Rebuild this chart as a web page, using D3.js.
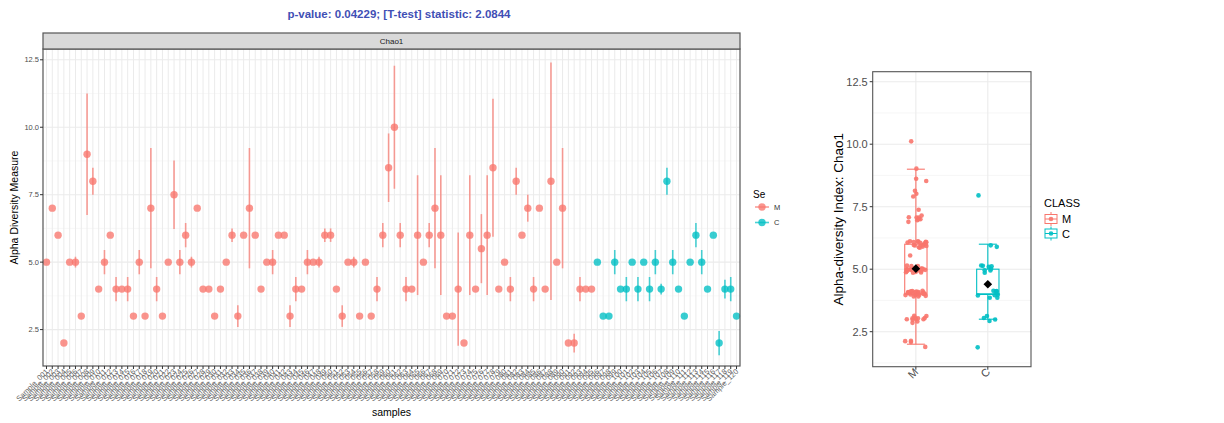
<!DOCTYPE html>
<html><head><meta charset="utf-8">
<script src="https://cdn.jsdelivr.net/npm/d3@7"></script>
<style>body{margin:0;background:#fff} svg{display:block;font-family:"Liberation Sans",Arial,Helvetica,sans-serif}</style>
</head><body><svg id="c" width="1224" height="423"></svg>
<script>
// ---------------- DATA ----------------
const titleText = "p-value: 0.04229; [T-test] statistic: 2.0844";
const samples = d3.range(1, 121).map(i => "Sample_" + String(i).padStart(3, "0"));
const classes = [...Array(95).fill("M"), ...Array(25).fill("C")];
const classLevels = ["M", "C"];
const chao1 = [
  5,7,6,2,5,5,3,9,8,4, 5,6,4,4,4,3,5,3,7,4,
  3,5,7.5,5,6,5,7,4,4,3, 4,5,6,3,6,7,6,4,5,5,
  6,6,3,4,4,5,5,5,6,6, 4,3,5,5,3,5,3,4,6,8.5,
  10,6,4,4,6,5,6,7,6,3, 3,4,2,6,4,5.5,6,8.5,4,5,
  4,8,6,7,4,7,4,8,5,7, 2,2,4,4,4,
  5,3,3,5,4, 4,5,4,5,4, 5,4,8,5,4, 3,5,6,5,4, 6,2,4,4,3
];
const chao1SE = [
  0,0,0,0,0,0.2,0,2.25,0.5,0, 0.45,0,0.45,0,0.45,0,0.45,0,2.23,0.45,
  0,0,1.27,0.45,0.45,0.2,0,0,0,0, 0,0,0.25,0.4,0,2.23,0,0,0,0.45,
  0,0,0.4,0.45,0,0.45,0,0.2,0.25,0.25, 0,0.4,0,0.2,0,0,0,0.45,0.45,1.27,
  2.28,0.45,0.45,0,2.22,0,0.45,2.23,2.22,0, 0,2.1,0,2.22,0,1.28,2.22,2.56,0,0,
  0.45,0.5,0,0.5,0.45,0,0,4.4,0,2.23, 0,0.35,0.45,0,0,
  0,0,0,0.45,0, 0.45,0,0.45,0,0.45, 0.45,0.2,0.5,0.45,0, 0,0,0.45,0.45,0, 0,0.45,0.35,0.45,0,0
];
const yTicks = [2.5, 5, 7.5, 10, 12.5];
const yMinor = [1.25, 3.75, 6.25, 8.75, 11.25];
const colors = {M: "#F8766D", C: "#00BFC4"};

// ---------------- CHART ----------------
const svg = d3.select("#c");
const fmt = d3.format(".1f");

svg.append("text").attr("x", 399).attr("y", 18).attr("text-anchor", "middle")
  .attr("font-size", 11.5).attr("font-weight", "bold").attr("fill", "#3f4fb5").text(titleText);

// ---- left panel ----
const L = {x0: 43, x1: 740, y0: 49, y1: 366};
const xL = d3.scalePoint().domain(samples).range([L.x0, L.x1]).padding(0.6);
const yL = d3.scaleLinear().domain([1.15, 12.9]).range([L.y1, L.y0]);
const gL = svg.append("g");
gL.append("rect").attr("x", L.x0).attr("y", L.y0).attr("width", L.x1 - L.x0).attr("height", L.y1 - L.y0).attr("fill", "#fff");
gL.selectAll(".mn").data(yMinor.filter(v => v > 1.15)).join("line")
  .attr("x1", L.x0).attr("x2", L.x1).attr("y1", d => yL(d)).attr("y2", d => yL(d))
  .attr("stroke", "#F4F4F4").attr("stroke-width", 0.6);
gL.selectAll(".mj").data(yTicks).join("line")
  .attr("x1", L.x0).attr("x2", L.x1).attr("y1", d => yL(d)).attr("y2", d => yL(d))
  .attr("stroke", "#EBEBEB").attr("stroke-width", 1.1);
gL.selectAll(".vx").data(samples).join("line")
  .attr("x1", d => xL(d)).attr("x2", d => xL(d)).attr("y1", L.y0).attr("y2", L.y1)
  .attr("stroke", "#EBEBEB").attr("stroke-width", 1);

const pts = samples.map((s, i) => ({s, v: chao1[i], se: chao1SE[i], c: classes[i], i}));
gL.selectAll(".eb").data(pts.filter(d => d.se > 0)).join("line")
  .attr("x1", d => xL(d.s)).attr("x2", d => xL(d.s))
  .attr("y1", d => yL(d.v - d.se)).attr("y2", d => yL(d.v + d.se))
  .attr("stroke", d => colors[d.c]).attr("stroke-width", 1.6).attr("opacity", 0.7);
gL.selectAll(".pt").data(pts).join("circle")
  .attr("cx", d => xL(d.s)).attr("cy", d => yL(d.v)).attr("r", 3.7)
  .attr("fill", d => colors[d.c]).attr("opacity", 0.78);
gL.append("rect").attr("x", L.x0).attr("y", L.y0).attr("width", L.x1 - L.x0).attr("height", L.y1 - L.y0)
  .attr("fill", "none").attr("stroke", "#555").attr("stroke-width", 1.2);
// strip
gL.append("rect").attr("x", L.x0).attr("y", 33).attr("width", L.x1 - L.x0).attr("height", 16)
  .attr("fill", "#D9D9D9").attr("stroke", "#555").attr("stroke-width", 1.2);
gL.append("text").attr("x", (L.x0 + L.x1) / 2).attr("y", 44).attr("text-anchor", "middle")
  .attr("font-size", 8).attr("fill", "#1a1a1a").text("Chao1");
// y axis
gL.selectAll(".yt").data(yTicks).join("line")
  .attr("x1", L.x0 - 3).attr("x2", L.x0).attr("y1", d => yL(d)).attr("y2", d => yL(d)).attr("stroke", "#333");
gL.selectAll(".yl").data(yTicks).join("text")
  .attr("x", L.x0 - 4).attr("y", d => yL(d) + 2.6).attr("text-anchor", "end")
  .attr("font-size", 7.5).attr("fill", "#4D4D4D").text(d => fmt(d));
gL.append("text").attr("transform", `translate(18,${(L.y0 + L.y1) / 2}) rotate(-90)`)
  .attr("text-anchor", "middle").attr("font-size", 10.5).attr("fill", "#000").text("Alpha Diversity Measure");
// x axis
gL.selectAll(".xt").data(samples).join("line")
  .attr("x1", d => xL(d)).attr("x2", d => xL(d)).attr("y1", L.y1).attr("y2", L.y1 + 3).attr("stroke", "#333");
gL.selectAll(".xl").data(samples).join("text")
  .attr("transform", d => `translate(${xL(d) + 2.5},${L.y1 + 6}) rotate(-45)`)
  .attr("text-anchor", "end").attr("font-size", 7.5).attr("fill", "#6a6a6a").text(d => d);
gL.append("text").attr("x", (L.x0 + L.x1) / 2).attr("y", 416).attr("text-anchor", "middle")
  .attr("font-size", 10.5).attr("fill", "#000").text("samples");
// legend Se
gL.append("text").attr("x", 753).attr("y", 198).attr("font-size", 10).attr("fill", "#000").text("Se");
classLevels.forEach((c, k) => {
  const yy = 207 + k * 15.5;
  gL.append("line").attr("x1", 755).attr("x2", 769).attr("y1", yy).attr("y2", yy)
    .attr("stroke", colors[c]).attr("stroke-width", 1.6).attr("opacity", 0.7);
  gL.append("circle").attr("cx", 762).attr("cy", yy).attr("r", 3.7).attr("fill", colors[c]).attr("opacity", 0.78);
  gL.append("text").attr("x", 774).attr("y", yy + 2.8).attr("font-size", 7.5).attr("fill", "#333").text(c);
});

// ---- right panel ----
const R = {x0: 872.7, x1: 1031, y0: 71.7, y1: 366.7};
const xR = d3.scalePoint().domain(classLevels).range([R.x0, R.x1]).padding(0.6);
const yR = d3.scaleLinear().domain([1.1, 12.9]).range([R.y1, R.y0]);
const gR = svg.append("g");
gR.append("rect").attr("x", R.x0).attr("y", R.y0).attr("width", R.x1 - R.x0).attr("height", R.y1 - R.y0).attr("fill", "#fff");
gR.selectAll(".mn").data(yMinor.filter(v => v > 1.1)).join("line")
  .attr("x1", R.x0).attr("x2", R.x1).attr("y1", d => yR(d)).attr("y2", d => yR(d))
  .attr("stroke", "#F2F2F2").attr("stroke-width", 0.7);
gR.selectAll(".mj").data(yTicks).join("line")
  .attr("x1", R.x0).attr("x2", R.x1).attr("y1", d => yR(d)).attr("y2", d => yR(d))
  .attr("stroke", "#EBEBEB").attr("stroke-width", 1.1);
gR.selectAll(".vx").data(classLevels).join("line")
  .attr("x1", d => xR(d)).attr("x2", d => xR(d)).attr("y1", R.y0).attr("y2", R.y1)
  .attr("stroke", "#EBEBEB").attr("stroke-width", 1.1);

const step = xR.step();
const boxW = 0.31 * step, capW = 0.25 * step;
classLevels.forEach(c => {
  const vals = chao1.filter((v, i) => classes[i] === c).sort(d3.ascending);
  const q1 = d3.quantile(vals, 0.25), med = d3.quantile(vals, 0.5), q3 = d3.quantile(vals, 0.75);
  const iqr = q3 - q1;
  const lo = d3.min(vals.filter(v => v >= q1 - 1.5 * iqr));
  const hi = d3.max(vals.filter(v => v <= q3 + 1.5 * iqr));
  const cx = xR(c), col = colors[c];
  const g = gR.append("g").attr("stroke", col).attr("fill", "none").attr("stroke-width", 1.1);
  g.append("line").attr("x1", cx).attr("x2", cx).attr("y1", yR(q3)).attr("y2", yR(hi));
  g.append("line").attr("x1", cx).attr("x2", cx).attr("y1", yR(q1)).attr("y2", yR(lo));
  g.append("line").attr("x1", cx - capW / 2).attr("x2", cx + capW / 2).attr("y1", yR(hi)).attr("y2", yR(hi));
  g.append("line").attr("x1", cx - capW / 2).attr("x2", cx + capW / 2).attr("y1", yR(lo)).attr("y2", yR(lo));
  g.append("rect").attr("x", cx - boxW / 2).attr("y", yR(q3)).attr("width", boxW).attr("height", yR(q1) - yR(q3)).attr("fill", "#fff");
  g.append("line").attr("x1", cx - boxW / 2).attr("x2", cx + boxW / 2).attr("y1", yR(med)).attr("y2", yR(med)).attr("stroke-width", 1.6);
});
// jitter (deterministic offsets for layout only)
const jit = (i, k) => { const s = Math.sin((i + 1) * 12.9898 + k * 78.233) * 43758.5453; return (s - Math.floor(s)) * 2 - 1; };
gR.selectAll(".jp").data(pts).join("circle")
  .attr("cx", d => xR(d.c) + jit(d.i, 1) * 0.15 * step)
  .attr("cy", d => yR(d.v + jit(d.i, 2) * 0.15))
  .attr("r", 2.3).attr("fill", d => colors[d.c]).attr("opacity", 0.9);
classLevels.forEach(c => {
  const m = d3.mean(chao1.filter((v, i) => classes[i] === c));
  const cx = xR(c), cy = yR(m), s = 4.3;
  gR.append("path").attr("d", `M${cx},${cy - s}L${cx + s},${cy}L${cx},${cy + s}L${cx - s},${cy}Z`).attr("fill", "#000");
});
gR.append("rect").attr("x", R.x0).attr("y", R.y0).attr("width", R.x1 - R.x0).attr("height", R.y1 - R.y0)
  .attr("fill", "none").attr("stroke", "#555").attr("stroke-width", 1.1);
gR.selectAll(".yt").data(yTicks).join("line")
  .attr("x1", R.x0 - 3).attr("x2", R.x0).attr("y1", d => yR(d)).attr("y2", d => yR(d)).attr("stroke", "#333");
gR.selectAll(".yl").data(yTicks).join("text")
  .attr("x", R.x0 - 5).attr("y", d => yR(d) + 3.8).attr("text-anchor", "end")
  .attr("font-size", 11).attr("fill", "#4D4D4D").text(d => fmt(d));
gR.append("text").attr("transform", `translate(843,${(R.y0 + R.y1) / 2}) rotate(-90)`)
  .attr("text-anchor", "middle").attr("font-size", 13.5).attr("fill", "#000").text("Alpha-diversity Index: Chao1");
gR.selectAll(".xt").data(classLevels).join("line")
  .attr("x1", d => xR(d)).attr("x2", d => xR(d)).attr("y1", R.y1).attr("y2", R.y1 + 3).attr("stroke", "#333");
gR.selectAll(".xl").data(classLevels).join("text")
  .attr("transform", d => `translate(${xR(d) + 3},${R.y1 + 6}) rotate(-45)`)
  .attr("text-anchor", "end").attr("font-size", 11).attr("fill", "#4D4D4D").text(d => d);
// legend CLASS
gR.append("text").attr("x", 1044).attr("y", 207).attr("font-size", 11).attr("fill", "#000").text("CLASS");
classLevels.forEach((c, k) => {
  const yy = 219 + k * 14.5, kx = 1051;
  const g = gR.append("g").attr("stroke", colors[c]).attr("stroke-width", 1).attr("fill", "none");
  g.append("line").attr("x1", kx).attr("x2", kx).attr("y1", yy - 7).attr("y2", yy + 7);
  g.append("rect").attr("x", kx - 6).attr("y", yy - 4.5).attr("width", 12).attr("height", 9).attr("fill", "#fff");
  g.append("line").attr("x1", kx - 6).attr("x2", kx + 6).attr("y1", yy).attr("y2", yy);
  gR.append("circle").attr("cx", kx).attr("cy", yy).attr("r", 2.3).attr("fill", colors[c]).attr("opacity", 0.9);
  gR.append("text").attr("x", 1062).attr("y", yy + 4).attr("font-size", 11).attr("fill", "#000").text(c);
});
</script></body></html>
